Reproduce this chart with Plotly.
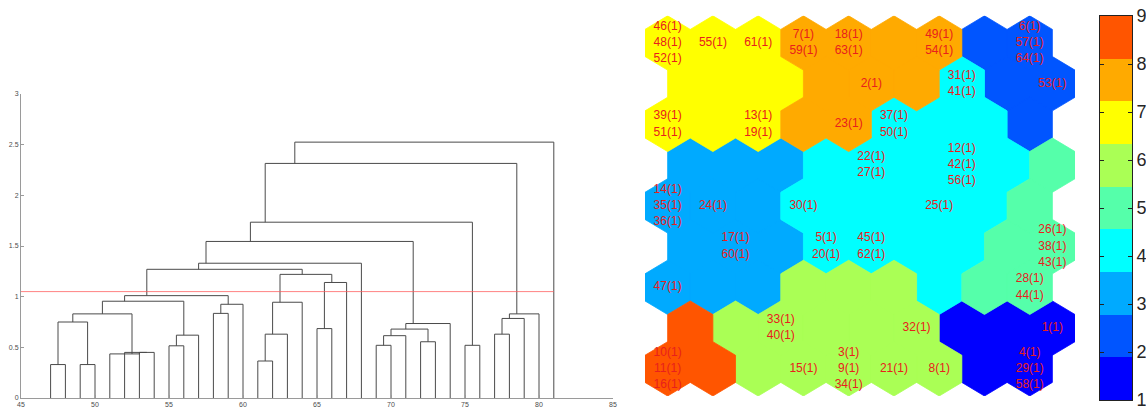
import math
import plotly.graph_objects as go

# ---------------- Dendrogram data ----------------
leaf_x = [47, 48, 49, 50, 51, 52, 53, 54, 55, 56, 57, 58, 59, 60, 61, 62, 63,
          64, 65, 66, 67, 68, 69, 70, 71, 72, 73, 74, 75, 76, 77, 78, 79, 80, 81]
# merges: name, left child, right child, height (children: leaf x or merge name)
merge_name = ["m1", "m2", "m3", "m4", "m5", "m6", "m7", "m8", "m9", "m10", "m11",
              "m12", "m13", "m14", "m15", "m16", "m17", "m18", "m19", "m20", "m21",
              "m22", "m23", "m24", "m25", "m26", "m27", "m28", "m29", "m30", "m31",
              "m32", "m33", "m34"]
merge_left = [47, 49, "m1", 53, 52, 51, "m3", 55, "m8", "m7", 58,
              "m11", "m10", 61, "m14", "m15", 65, "m17", "m16", "m13", "m20",
              69, "m22", 72, "m23", "m25", "m21", 75, "m27", 77, "m30",
              "m31", "m29", "m33"]
merge_right = [48, 50, "m2", 54, "m4", "m5", "m6", 56, 57, "m9", 59,
               60, "m12", 62, 63, 64, 66, 67, "m18", "m19", 68,
               70, 71, 73, "m24", 74, "m26", 76, "m28", 78, 79,
               80, "m32", 81]
merge_height = [0.33, 0.33, 0.75, 0.45, 0.45, 0.435, 0.83, 0.515, 0.62, 0.955, 0.835,
                0.925, 1.01, 0.365, 0.63, 0.945, 0.685, 1.14, 1.22, 1.27, 1.33,
                0.52, 0.615, 0.555, 0.68, 0.735, 1.545, 0.52, 1.735, 0.63, 0.785,
                0.83, 2.315, 2.525]
cut_height = 1.05
dendro_x_ticks = [45, 50, 55, 60, 65, 70, 75, 80, 85]
dendro_y_ticks = [0, 0.5, 1, 1.5, 2, 2.5, 3]

# ---------------- SOM map data ----------------
cluster_grid = [
    [7, 7, 7, 8, 8, 8, 8, 2, 2],
    [7, 7, 7, 8, 8, 8, 4, 2, 2],
    [7, 7, 7, 8, 8, 4, 4, 4, 2],
    [3, 3, 3, 4, 4, 4, 4, 4, 5],
    [3, 3, 3, 4, 4, 4, 4, 4, 5],
    [3, 3, 3, 4, 4, 4, 4, 5, 5],
    [3, 3, 3, 6, 6, 6, 4, 5, 5],
    [9, 6, 6, 6, 6, 6, 1, 1, 1],
    [9, 9, 6, 6, 6, 6, 6, 1, 1],
]
cluster_colors = ["#0000FF", "#0055FF", "#00AAFF", "#00FFFF", "#55FFAA",
                  "#AAFF55", "#FFFF00", "#FFAA00", "#FF5500"]
cluster_ids = [1, 2, 3, 4, 5, 6, 7, 8, 9]
cell_row = [0, 0, 0, 0, 0, 0, 0, 1, 1, 1, 2, 2, 2, 2, 3, 3, 4, 4, 4, 4,
            5, 5, 5, 5, 6, 6, 7, 7, 7, 8, 8, 8, 8, 8, 8]
cell_col = [0, 1, 2, 3, 4, 6, 8, 4, 6, 8, 0, 2, 4, 5, 4, 6, 0, 1, 3, 6,
            1, 3, 4, 8, 0, 8, 2, 5, 8, 0, 3, 4, 5, 6, 8]
cell_members = [[46, 48, 52], [55], [61], [7, 59], [18, 63], [49, 54], [6, 57, 64],
                [2], [31, 41], [53],
                [39, 51], [13, 19], [23], [37, 50],
                [22, 27], [12, 42, 56],
                [14, 35, 36], [24], [30], [25],
                [17, 60], [5, 20], [45, 62], [26, 38, 43],
                [47], [28, 44],
                [33, 40], [32], [1],
                [10, 11, 16], [15], [3, 9, 34], [21], [8], [4, 29, 58]]
hits = 1
colorbar_ticks = [1, 2, 3, 4, 5, 6, 7, 8, 9]

W, H = 1146, 410
fig = go.Figure()

# ---------- dendrogram ----------
node_leaves = {}
node_h = {}
for lx in leaf_x:
    node_leaves[lx] = [lx]
    node_h[lx] = 0.0
dx, dy = [], []
for name, a, b, h in zip(merge_name, merge_left, merge_right, merge_height):
    xa = sum(node_leaves[a]) / len(node_leaves[a])
    xb = sum(node_leaves[b]) / len(node_leaves[b])
    dx += [xa, xa, xb, xb, None]
    dy += [node_h[a], h, h, node_h[b], None]
    node_leaves[name] = node_leaves[a] + node_leaves[b]
    node_h[name] = h

fig.add_trace(go.Scatter(x=dx, y=dy, mode="lines",
                         line=dict(color="#4a4a4a", width=1),
                         hoverinfo="skip", showlegend=False,
                         xaxis="x", yaxis="y"))
fig.add_trace(go.Scatter(x=[dendro_x_ticks[0], max(leaf_x)], y=[cut_height, cut_height],
                         mode="lines", line=dict(color="#ff5a5a", width=1),
                         opacity=0.75,
                         hoverinfo="skip", showlegend=False,
                         xaxis="x", yaxis="y"))

# ---------- SOM hex map ----------
R = 1 / math.sqrt(3)
rowh = math.sqrt(3) / 2
hex_off = [(0, R), (-0.5, R / 2), (-0.5, -R / 2), (0, -R), (0.5, -R / 2), (0.5, R / 2), (0, R)]


def center(r, c):
    return c + (0.5 if r % 2 else 0.0), -r * rowh


for k in cluster_ids:
    px, py = [], []
    for r, row in enumerate(cluster_grid):
        for c, v in enumerate(row):
            if v == k:
                cx, cy = center(r, c)
                for ox, oy in hex_off:
                    px.append(cx + ox)
                    py.append(cy + oy)
                px.append(None)
                py.append(None)
    col = cluster_colors[k - 1]
    fig.add_trace(go.Scatter(x=px, y=py, mode="lines", fill="toself",
                             fillcolor=col, line=dict(color=col, width=0.8),
                             hoverinfo="skip", showlegend=False,
                             xaxis="x2", yaxis="y2"))

# labels
tx, ty, tt = [], [], []
line_gap = 0.347
for r, c, mem in zip(cell_row, cell_col, cell_members):
    cx, cy = center(r, c)
    n = len(mem)
    for i, m in enumerate(mem):
        tx.append(cx)
        ty.append(cy - (i - (n - 1) / 2) * line_gap)
        tt.append(f"{m}({hits})")
fig.add_trace(go.Scatter(x=tx, y=ty, mode="text", text=tt,
                         textposition="middle center",
                         textfont=dict(family="Liberation Sans, Arial", size=12,
                                       color="#E8201C"),
                         hoverinfo="skip", showlegend=False,
                         xaxis="x2", yaxis="y2"))

# ---------- colour bar drawn as its own axis ----------
nb = len(cluster_ids)
band = (colorbar_ticks[-1] - colorbar_ticks[0]) / nb
cscale = []
for i, col in enumerate(cluster_colors):
    cscale.append([i / nb, col])
    cscale.append([(i + 1) / nb, col])
fig.add_trace(go.Heatmap(z=[[k] for k in cluster_ids], x=[0.5],
                         y=[colorbar_ticks[0] + (i + 0.5) * band for i in range(nb)],
                         colorscale=cscale, zmin=0.5, zmax=nb + 0.5,
                         showscale=False, hoverinfo="skip",
                         xaxis="x3", yaxis="y3"))

axis_font = dict(family="Liberation Sans, Arial", size=7, color="#4d4d4d")
fig.update_layout(
    width=W, height=H,
    margin=dict(l=0, r=0, t=0, b=0),
    paper_bgcolor="white", plot_bgcolor="white",
    xaxis=dict(domain=[21 / W, 613 / W], range=[45, 85], tickvals=dendro_x_ticks,
               showgrid=False, zeroline=False, showline=True, linecolor="#9a9a9a",
               linewidth=1, ticks="inside", ticklen=3, tickcolor="#9a9a9a",
               tickfont=axis_font, anchor="y", automargin=False,
               ticklabeloverflow="allow"),
    yaxis=dict(domain=[12 / H, 316 / H], range=[0, 3], tickvals=dendro_y_ticks,
               showgrid=False, zeroline=False, showline=True, linecolor="#9a9a9a",
               linewidth=1, ticks="inside", ticklen=3, tickcolor="#9a9a9a",
               tickfont=axis_font, anchor="x", automargin=False,
               ticklabeloverflow="allow"),
    xaxis2=dict(domain=[645 / W, 1075 / W], range=[-0.5, 9.0], visible=False,
                anchor="y2", automargin=False),
    yaxis2=dict(domain=[14 / H, (H - 15.8) / H], range=[-8 * rowh - R, R],
                visible=False, anchor="x2", automargin=False),
    xaxis3=dict(domain=[1100 / W, 1132 / W], range=[0, 1], showticklabels=False,
                ticks="", showgrid=False, zeroline=False, showline=True,
                linecolor="#222", linewidth=1, mirror=True, anchor="y3",
                automargin=False),
    yaxis3=dict(domain=[10 / H, (H - 16) / H], range=[colorbar_ticks[0], colorbar_ticks[-1]],
                tickvals=colorbar_ticks, side="right", ticks="inside", ticklen=4,
                tickcolor="#222", mirror="ticks", showline=True, linecolor="#222",
                linewidth=1, showgrid=False, zeroline=False, anchor="x3",
                tickfont=dict(family="Liberation Sans, Arial", size=18, color="#262626"),
                automargin=False, ticklabeloverflow="allow"),
)

fig.write_html("out.html",
               config={"displayModeBar": False},
               post_script="document.body.style.margin='0px';document.body.style.overflow='hidden';")
